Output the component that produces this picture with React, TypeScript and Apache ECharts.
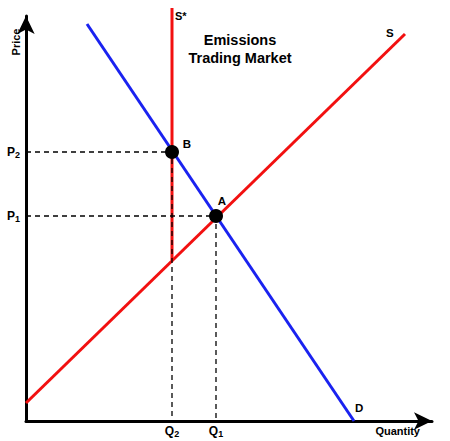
import React, { useEffect, useRef } from "react";
import * as echarts from "echarts";

// Data expressed in chart units (origin at the axes' intersection)
const supplyS: number[][] = [[0, 18], [379, 387]];
const supplyCap: number[][] = [[146, 161], [146, 413]];
const demandD: number[][] = [[61, 397], [328, 0]];
const pointA: number[] = [190, 205];
const pointB: number[] = [146, 269];
const qTicks: number[] = [146, 190];
const qTickLabels: string[] = ["{m|Q}{s|2}", "{m|Q}{s|1}"];
const pTicks: number[] = [205, 269];
const pTickLabels: string[] = ["{m|P}{s|1}", "{m|P}{s|2}"];

const RED = "#f21010";
const BLUE = "#1a22f0";
const FONT = "Liberation Sans, Arial, sans-serif";

const rich = {
  m: { fontSize: 12, fontWeight: "bold" as const, fontFamily: FONT, color: "#000" },
  s: { fontSize: 9, fontWeight: "bold" as const, fontFamily: FONT, color: "#000", verticalAlign: "bottom" as const, padding: [5, 0, 0, 0] },
};

export default function App() {
  const ref = useRef<HTMLDivElement>(null);
  useEffect(() => {
    if (!ref.current) return;
    const chart = echarts.init(ref.current, null, { renderer: "svg" });
    chart.setOption({
      animation: false,
      backgroundColor: "#fff",
      grid: { left: 26, right: 18, top: 16, bottom: 20, containLabel: false },
      xAxis: {
        type: "value",
        min: 0,
        max: 406,
        splitLine: { show: false },
        axisTick: { show: false },
        axisLine: {
          show: true,
          onZero: false,
          symbol: ["none", "arrow"],
          symbolSize: [13, 18],
          lineStyle: { color: "#000", width: 3 },
        },
        axisLabel: {
          customValues: qTicks,
          formatter: (v: number) => qTickLabels[qTicks.indexOf(v)] ?? "",
          rich,
          margin: 3,
        },
      },
      yAxis: {
        type: "value",
        min: 0,
        max: 405,
        splitLine: { show: false },
        axisTick: { show: false },
        axisLine: {
          show: true,
          onZero: false,
          symbol: ["none", "arrow"],
          symbolSize: [13, 18],
          lineStyle: { color: "#000", width: 3 },
        },
        axisLabel: {
          customValues: pTicks,
          formatter: (v: number) => pTickLabels[pTicks.indexOf(v)] ?? "",
          rich,
          margin: 6,
        },
      },
      series: [
        {
          type: "line",
          data: supplyCap,
          symbol: "none",
          clip: false,
          lineStyle: { color: RED, width: 3 },
          z: 2,
        },
        {
          type: "line",
          data: supplyS,
          symbol: "none",
          clip: false,
          lineStyle: { color: RED, width: 3 },
          z: 2,
        },
        {
          type: "line",
          data: demandD,
          symbol: "none",
          clip: false,
          lineStyle: { color: BLUE, width: 3 },
          z: 2,
        },
        {
          type: "line",
          data: [[0, pointB[1]], pointB, [pointB[0], 0]],
          symbol: "none",
          lineStyle: { color: "#000", width: 1.3, type: [5, 4] },
          z: 3,
        },
        {
          type: "line",
          data: [[0, pointA[1]], pointA, [pointA[0], 0]],
          symbol: "none",
          lineStyle: { color: "#000", width: 1.3, type: [5, 4] },
          z: 3,
        },
        {
          type: "scatter",
          data: [
            { value: pointA, label: { formatter: "A", offset: [6, -15] } },
            { value: pointB, label: { formatter: "B", offset: [15, -8] } },
          ],
          symbolSize: 14,
          itemStyle: { color: "#000", opacity: 1 },
          label: {
            show: true,
            position: "inside",
            color: "#000",
            fontSize: 11.5,
            fontWeight: "bold",
            fontFamily: FONT,
          },
          emphasis: { disabled: true },
          z: 4,
        },
      ],
      graphic: [
        {
          type: "text",
          x: 240,
          y: 40,
          style: {
            text: "Emissions",
            align: "center",
            verticalAlign: "middle",
            fontSize: 14.5,
            fontWeight: "bold",
            fontFamily: FONT,
            fill: "#000",
          },
        },
        {
          type: "text",
          x: 240,
          y: 58,
          style: {
            text: "Trading Market",
            align: "center",
            verticalAlign: "middle",
            fontSize: 14.5,
            fontWeight: "bold",
            fontFamily: FONT,
            fill: "#000",
          },
        },
        {
          type: "text",
          x: 16,
          y: 42,
          rotation: Math.PI / 2,
          style: {
            text: "Price",
            align: "center",
            verticalAlign: "middle",
            fontSize: 11,
            fontWeight: "bold",
            fontFamily: FONT,
            fill: "#000",
          },
        },
        {
          type: "text",
          x: 420,
          y: 431,
          style: {
            text: "Quantity",
            align: "right",
            verticalAlign: "middle",
            fontSize: 11,
            fontWeight: "bold",
            fontFamily: FONT,
            fill: "#000",
          },
        },
        {
          type: "text",
          x: 175,
          y: 16,
          style: { text: "S*", verticalAlign: "middle", fontSize: 11, fontWeight: "bold", fontFamily: FONT, fill: "#000" },
        },
        {
          type: "text",
          x: 386,
          y: 33,
          style: { text: "S", verticalAlign: "middle", fontSize: 11.5, fontWeight: "bold", fontFamily: FONT, fill: "#000" },
        },
        {
          type: "text",
          x: 355,
          y: 408,
          style: { text: "D", verticalAlign: "middle", fontSize: 11.5, fontWeight: "bold", fontFamily: FONT, fill: "#000" },
        },
      ],
    });
    return () => chart.dispose();
  }, []);
  return <div ref={ref} style={{ width: 450, height: 441, position: "absolute", left: 0, top: 0 }} />;
}
